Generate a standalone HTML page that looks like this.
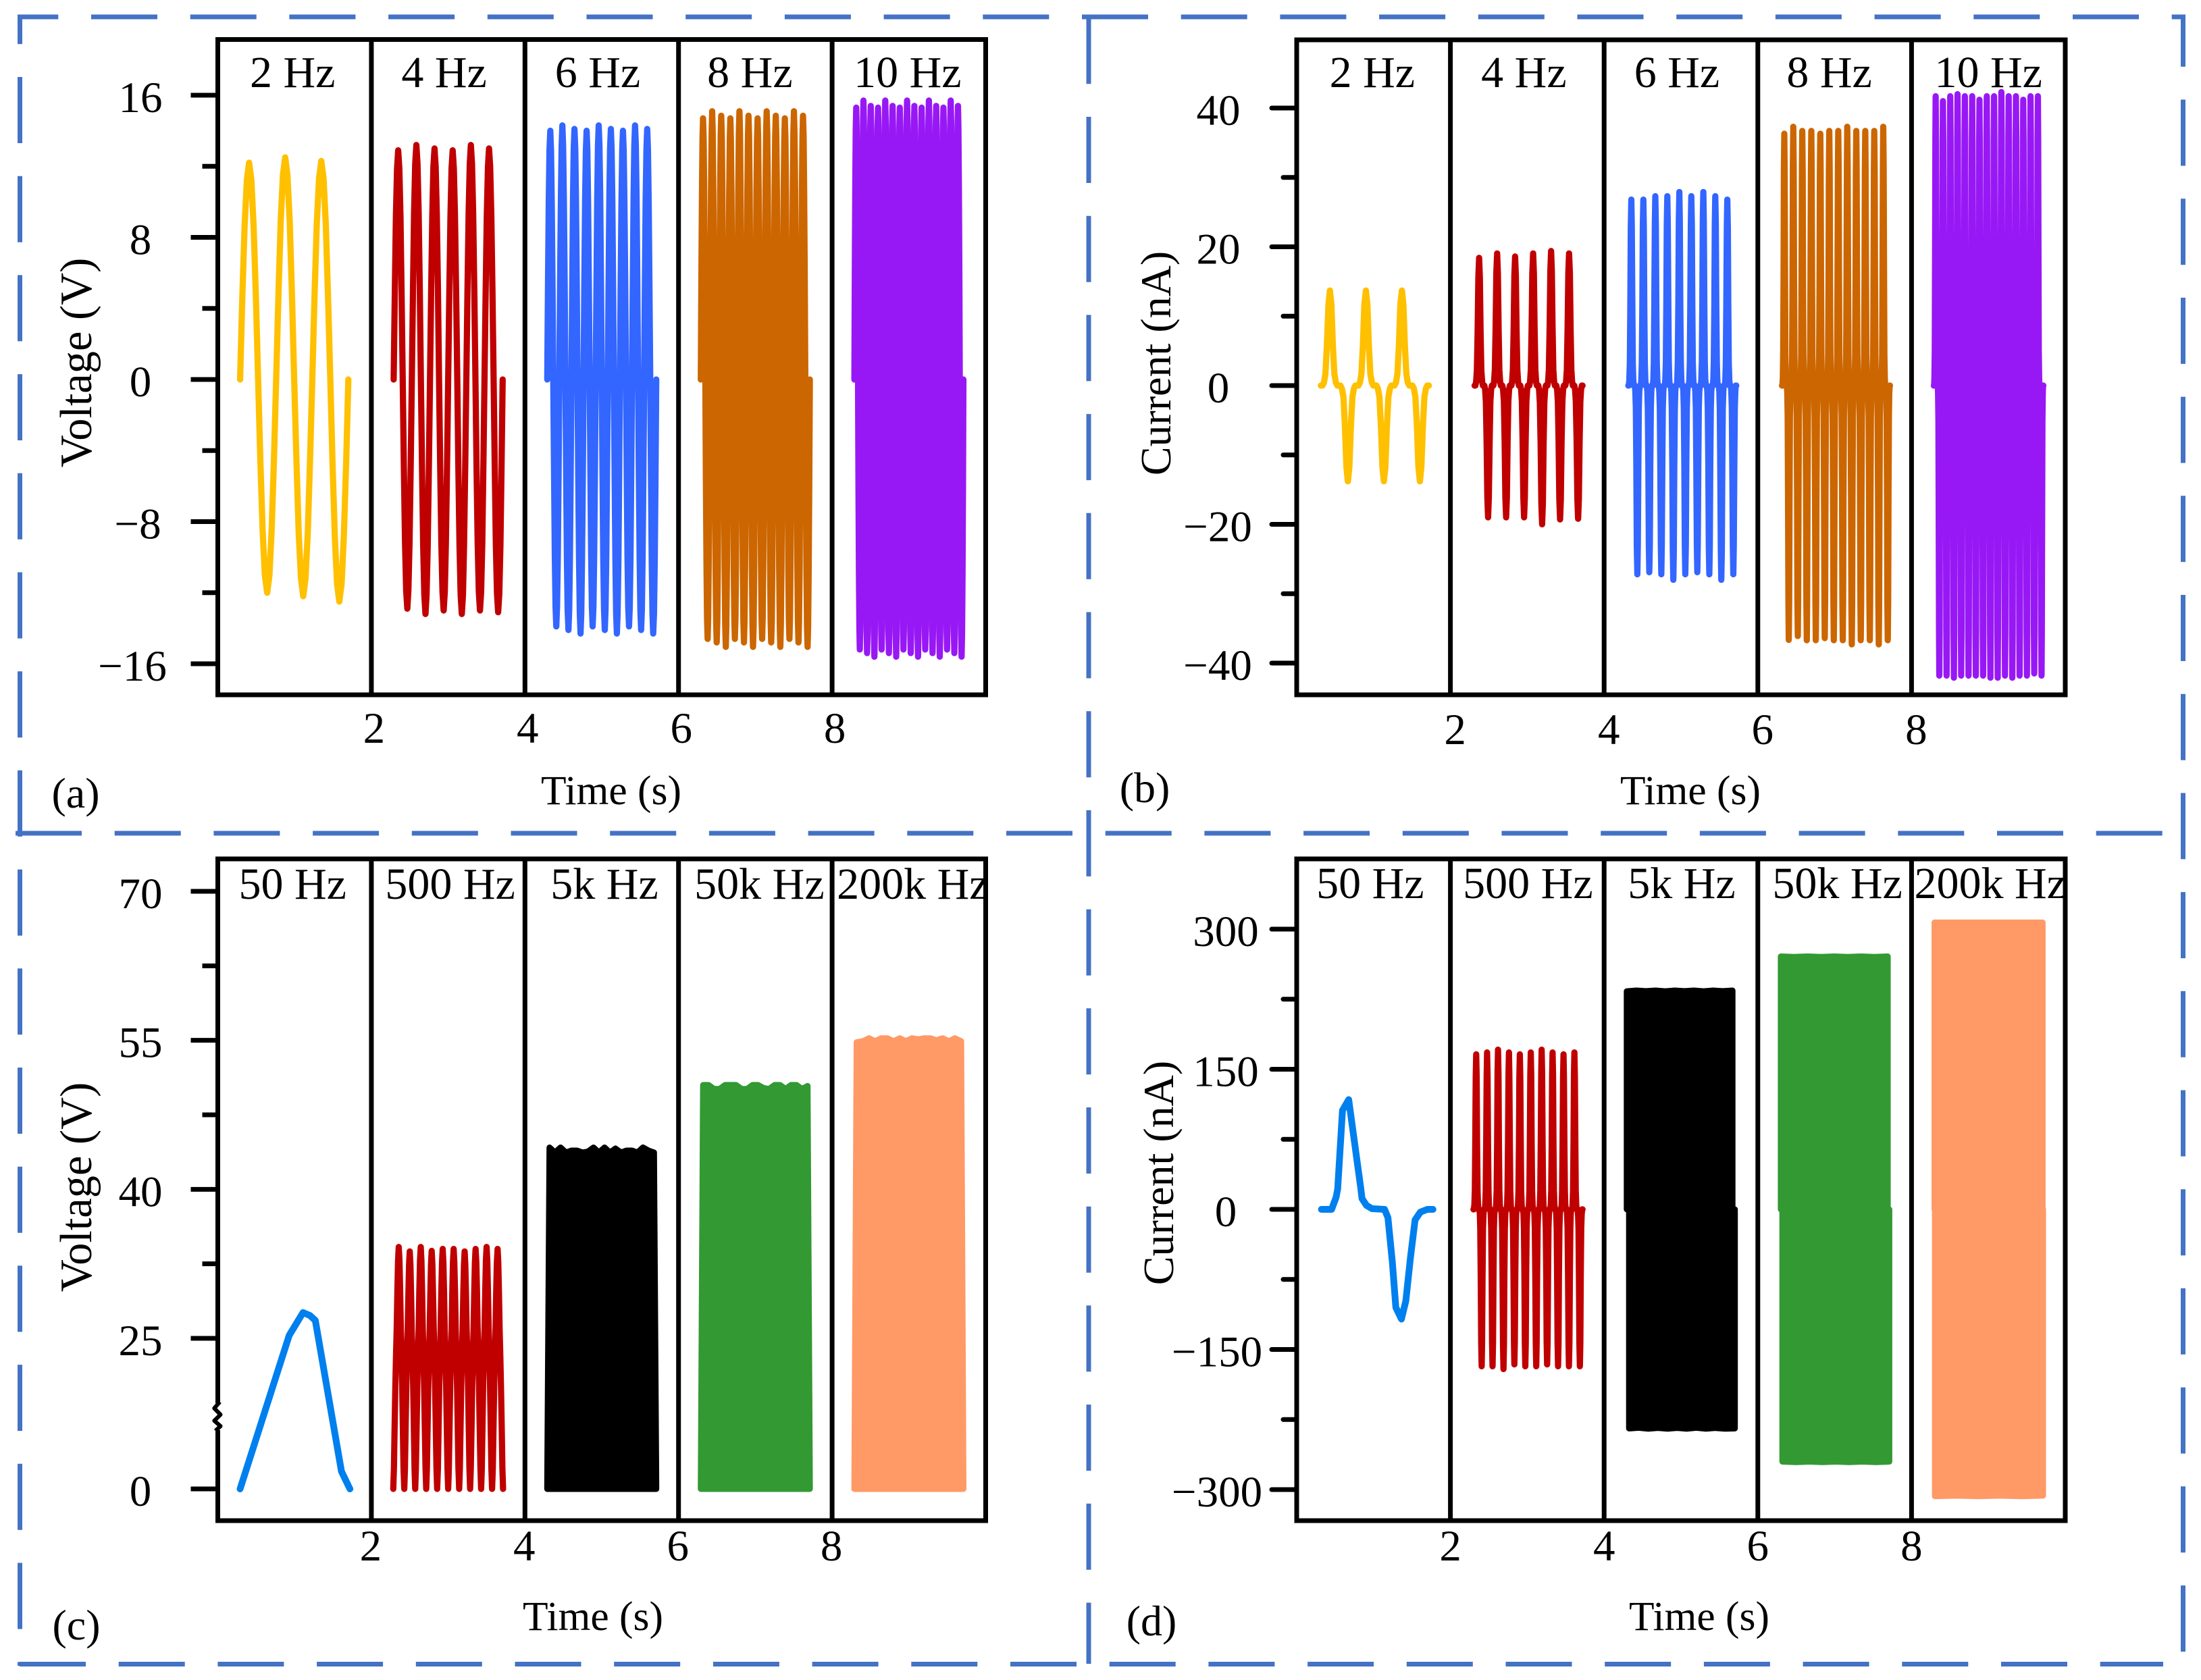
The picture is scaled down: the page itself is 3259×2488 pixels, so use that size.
<!DOCTYPE html>
<html lang="en">
<head>
<meta charset="utf-8">
<title>Voltage and current response by frequency</title>
<style>
html,body{margin:0;padding:0;background:#fff}
svg{display:block}
text{font-family:"Liberation Serif","Times New Roman",serif;fill:#000}
</style>
</head>
<body>
<svg id="figure" xmlns="http://www.w3.org/2000/svg" width="3259" height="2488" viewBox="0 0 3259 2488">
<rect x="0" y="0" width="3259" height="2488" fill="#ffffff"/>
</svg>
<script>
// ---------- normalised one-cycle waveforms ----------
const sineCycle = [0,.38,.71,.92,1,.92,.71,.38,0,-.38,-.71,-.92,-1,-.92,-.71,-.38];
const pulseCycle = [0,0,.03,.12,.42,.85,1,.85,.42,.12,.03,0,0,0,-.03,-.12,-.42,-.85,-1,-.85,-.42,-.12,-.03,0];
const rectCycle = [0,.1,.3,.5,.65,.76,.87,.96,1,.96,.87,.76,.65,.5,.3,.1];

// ---------- panel (a) voltage, low frequency ----------
const aFrequencies = ["2 Hz","4 Hz","6 Hz","8 Hz","10 Hz"];
const aMajorTicks = [16,8,0,-8,-16];
const aMinorTicks = [12,4,-4,-12];
const aPeaks2 = [12.2,12.5,12.3];
const aTroughs2 = [-12.0,-12.2,-12.5];
const aPeaks4 = [12.9,13.2,13.0,12.9,13.2,13.0];
const aTroughs4 = [-12.9,-13.2,-13.0,-13.2,-13.0,-13.1];
const aPeaks6 = [14.0,14.3,14.1,14.0,14.3,14.1,14.0,14.3,14.1];
const aTroughs6 = [-13.9,-14.1,-14.3,-13.9,-14.1,-14.3,-13.9,-14.1,-14.3];
const aPeaks8 = [14.7,15.1,14.85,14.7,15.1,14.85,14.7,15.1,14.85,14.7,15.1,14.85];
const aTroughs8 = [-14.6,-14.8,-15.05,-14.6,-14.8,-15.05,-14.6,-14.8,-15.05,-14.6,-14.8,-15.05];
const aPeaks10 = [15.3,15.7,15.4,15.3,15.7,15.4,15.3,15.7,15.4,15.3,15.7,15.4,15.3,15.7,15.4];
const aTroughs10 = [-15.2,-15.4,-15.6,-15.2,-15.4,-15.6,-15.2,-15.4,-15.6,-15.2,-15.4,-15.6,-15.2,-15.4,-15.6];

// ---------- panel (b) current, low frequency ----------
const bFrequencies = ["2 Hz","4 Hz","6 Hz","8 Hz","10 Hz"];
const bMajorTicks = [40,20,0,-20,-40];
const bMinorTicks = [30,10,-10,-30];
const bPeaks2 = [13.7,13.7,13.7];
const bTroughs2 = [-13.8,-13.8,-13.8];
const bPeaks4 = [18.4,19.05,18.6,19.05,19.4,19.05];
const bTroughs4 = [-19,-19,-19,-20,-19.3,-19.2];
const bPeaks6 = [26.8,26.8,27.3,27.3,27.9,27.3,27.9,27.3,26.8];
const bTroughs6 = [-27.2,-26.9,-27.2,-28,-27.2,-26.9,-27.2,-28,-27.2];
const bPeaks8 = [36.3,37.3,36.7,36.7,36.3,36.7,36.7,37.3,36.7,36.7,36.7,37.3];
const bTroughs8 = [-36.65,-36.1,-36.7,-36.7,-36.4,-36.7,-36.7,-37.3,-36.7,-36.7,-37.3,-36.7];
const bPeaks10 = [41.7,41,41.7,42,41.7,41.7,41.2,41.7,41.7,42.3,41.7,41.7,41.2,41.7,41.7];
const bTroughs10 = [-41.8,-41.8,-42.1,-41.8,-41.8,-41.8,-41.8,-42.1,-42.1,-41.8,-42.1,-41.8,-41.8,-41.5,-41.8];

// ---------- panel (c) voltage, high frequency (broken axis) ----------
const cFrequencies = ["50 Hz","500 Hz","5k Hz","50k Hz","200k Hz"];
const cMajorTicks = [70,55,40,25,0];
const cMinorTicks = [62.5,47.5,32.5];
const c50Times = [0.29,0.93,1.11,1.2,1.27,1.61,1.72];
const c50Values = [0,25.3,27.6,27.3,26.8,2.9,0];
const c500Peaks = [34.2,33.75,34.2,33.8,34,34,33.75,34,34.2,34];
const c5kTops = [44.2,43.7,44.2,43.7,43.9,43.9,43.7,43.8,44.2,43.7,44.2,43.7,44.1,43.7,43.9,43.9,43.7,44.2,43.9,43.7];
const c50kTops = [50.5,50.5,50.1,50.1,50.5,50.5,50.5,50.1,50.1,50.5,50.5,50.2,50.1,50.5,50.5,50.1,50.5,50.5,50.1,50.4];
const c200kTops = [54.8,54.9,55.2,54.9,55.2,55.2,54.9,55.2,54.9,55.2,55.1,55.2,55.2,55.0,55.2,54.9,55.2,54.9];

// ---------- panel (d) current, high frequency ----------
const dFrequencies = ["50 Hz","500 Hz","5k Hz","50k Hz","200k Hz"];
const dMajorTicks = [300,150,0,-150,-300];
const dMinorTicks = [225,75,-75,-225];
const d50Times = [0.322,0.454,0.513,0.533,0.596,0.677,0.835,0.85,0.908,0.98,1.143,1.187,1.245,1.29,1.363,1.42,1.48,1.54,1.61,1.70,1.773];
const d50Values = [0,0,13,22,106,117.5,22,11.6,4.3,0.7,0,-8.9,-57,-105,-117.5,-98,-52,-11.3,-2.9,0,0];
const d500Peaks = [166,168,171,168,166,168,171,168,166,168];
const d500Troughs = [-168,-168,-171,-166,-168,-168,-166,-168,-168,-168];
const d5kTops = [233.4,234.2,233.6,234.2,233.4,234.2,233.6,234.2,233.4,234.2,233.6,234.2];
const d5kBottoms = [-234.5,-233.8,-234.8,-234,-234.8,-234,-234.8,-233.8,-234.8,-234,-234.8,-234.5];
const d50kTops = [270.7,270.2,270.7,270.2,270.7,270.2,270.7,270.2,270.7];
const d50kBottoms = [-270,-270.6,-270,-270.6,-270,-270.6,-270,-270.6,-270];
const d200kTops = [307,307,307,307,307,307];
const d200kBottoms = [-307,-306.4,-307,-306.4,-307,-306.4];

// ---------- shared axis data ----------
const xTickValues = [2,4,6,8];
const seriesColors = {amber:"#FFC000",red:"#C00000",blue:"#3366FF",brown:"#CC6600",violet:"#9818F5",sky:"#007FEE",black:"#000000",green:"#339933",peach:"#FF9966"};

const NS = "http://www.w3.org/2000/svg";
const svg = document.getElementById("figure");
const WAVE_WIDTH = 9.2;
const TRACE_WIDTH = 10;

function make(tag, name, attrs, parent, text) {
  const el = document.createElementNS(NS, tag);
  
  
  for (const k in attrs) el.setAttribute(k, attrs[k]);
  if (text !== undefined) el.textContent = text;
  (parent || svg).appendChild(el);
  return el;
}

// ---------- dashed panel separators ----------
const DASH = 98, GAP = 48.7, PERIOD = DASH + GAP;
function dashed(name, x1, y1, x2, y2, phase) {
  const start = x1 === x2 ? y1 : x1;
  const off = ((start - phase) % PERIOD + PERIOD) % PERIOD;
  make("line", name, {x1, y1, x2, y2, stroke:"#4472C4", "stroke-width":7, "stroke-dasharray":DASH+" "+GAP, "stroke-dashoffset":off}, svg);
}
dashed("border-top", 26, 25, 3236, 25, 135);
dashed("border-left", 29.5, 25, 29.5, 2467, 114);
dashed("border-right", 3232.5, 25, 3232.5, 2446, 2201.3);
dashed("border-bottom", 29, 2464.5, 3203, 2464.5, 29);
dashed("divider-vertical", 1612, 28, 1612, 2464, 173);
dashed("divider-horizontal", 23, 1234, 3236, 1234, 1490);

// ---------- axis functions ----------
function xPos(p, t) { return p.left + (p.right - p.left) * t / 10; }
function yPos(p, v) {
  const d = p.yDomain, r = p.yRange;
  let i = 0;
  while (i < d.length - 2 && v > d[i + 1]) i++;
  return r[i] + (v - d[i]) * (r[i + 1] - r[i]) / (d[i + 1] - d[i]);
}

function drawFrame(p) {
  const g = make("g", "panel-" + p.id, {}, svg);
  p.g = g;
  p.series = make("g", "series-" + p.id, {fill:"none"}, g);
  make("rect", "plot-frame-" + p.id, {x:p.left, y:p.top, width:p.right-p.left, height:p.bottom-p.top, fill:"none", stroke:"#000", "stroke-width":7, "stroke-linejoin":"miter"}, g);
  xTickValues.forEach(function (t) {
    make("line", "x-divider-" + t, {x1:xPos(p,t), x2:xPos(p,t), y1:p.top, y2:p.bottom, stroke:"#000", "stroke-width":7}, g);
    make("text", "x-tick-label-" + t, {x:xPos(p,t)+p.xLabelShift, y:p.xLabelBase, "font-size":65, "text-anchor":"middle"}, g, String(t));
  });
  p.major.forEach(function (v) {
    const y = yPos(p, v);
    make("line", "y-tick-" + v, {x1:p.left-p.tickInset-40, x2:p.left, y1:y, y2:y, stroke:"#000", "stroke-width":7, "stroke-linecap":p.tickCap}, g);
    const lab = v < 0 ? "\u2212" + Math.abs(v) : String(v);
    const cx = p.labelX - (v < 0 ? p.negShift[String(Math.abs(v)).length - 1] : 0);
    make("text", "y-tick-label-" + v, {x:cx, y:y+25, "font-size":65, "text-anchor":"middle"}, g, lab);
  });
  p.minor.forEach(function (v) {
    const y = yPos(p, v);
    make("line", "y-minor-tick-" + v, {x1:p.left-p.tickInset-23, x2:p.left, y1:y, y2:y, stroke:"#000", "stroke-width":7, "stroke-linecap":p.tickCap}, g);
  });
  p.freqs.forEach(function (f, i) {
    const mid = xPos(p, 2*i+1) + p.headerNudge[i];
    make("text", "frequency-label-" + f.replace(" ","-").toLowerCase(), {x:mid, y:p.headerBase, "font-size":66, "text-anchor":"middle"}, g, f);
  });
  make("text", "x-axis-title", {x:p.timeX, y:p.timeBase, "font-size":61.5, "text-anchor":"middle"}, g, "Time (s)");
  make("text", "y-axis-title", {x:0, y:0, "font-size":p.titleSize, "text-anchor":"middle", transform:"translate("+p.titleX+" "+p.titleY+") rotate(-90)"}, g, p.title);
  make("text", "panel-label", {x:p.tagX, y:p.tagBase, "font-size":64, "text-anchor":"middle"}, g, p.tag);
}

function drawWave(p, name, start, end, peaks, troughs, shape, color) {
  const n = peaks.length, pts = [];
  const dur = (end - start) / n;
  for (let c = 0; c < n; c++) {
    for (let i = 0; i < shape.length; i++) {
      const s = shape[i];
      const amp = s >= 0 ? peaks[c] : Math.abs(troughs[c]);
      pts.push(xPos(p, start + (c + i / shape.length) * dur).toFixed(1) + "," + yPos(p, s * amp).toFixed(1));
    }
  }
  pts.push(xPos(p, end).toFixed(1) + "," + yPos(p, 0).toFixed(1));
  make("polyline", name, {points:pts.join(" "), fill:"none", stroke:color, "stroke-width":WAVE_WIDTH, "stroke-linejoin":"round", "stroke-linecap":"round"}, p.series);
}

function drawTrace(p, name, times, values, color) {
  const pts = times.map(function (t, i) { return xPos(p, t).toFixed(1) + "," + yPos(p, values[i]).toFixed(1); });
  make("polyline", name, {points:pts.join(" "), fill:"none", stroke:color, "stroke-width":TRACE_WIDTH, "stroke-linejoin":"round", "stroke-linecap":"round"}, p.series);
}

function drawBlock(p, name, start, end, tops, bottoms, color, inset) {
  const pts = [];
  const pushPt = function (t, v) { pts.push(xPos(p, t).toFixed(1) + "," + yPos(p, v).toFixed(1)); };
  const tStart = bottoms ? start : start + inset;
  const tEnd = end - inset;
  pushPt(start, 0);
  tops.forEach(function (v, i) { pushPt(tStart + (tEnd - tStart) * i / (tops.length - 1), v); });
  if (bottoms) pushPt(tEnd, 0);
  pushPt(end, 0);
  if (bottoms) {
    const bStart = start + inset;
    for (let i = bottoms.length - 1; i >= 0; i--) {
      pushPt(bStart + (end - bStart) * i / (bottoms.length - 1), bottoms[i]);
    }
    pushPt(bStart, 0);
  }
  make("polygon", name, {points:pts.join(" "), fill:color, stroke:color, "stroke-width":9, "stroke-linejoin":"round"}, p.series);
}

// ---------- panel layout ----------
const panelA = {id:"a", left:322.5, right:1459.5, top:58.5, bottom:1029, yDomain:[-16,16], yRange:[983,141],
  major:aMajorTicks, minor:aMinorTicks, freqs:aFrequencies, labelX:208, negShift:[4,12,0], tickCap:"butt", tickInset:0, xLabelShift:4, xLabelBase:1100,
  headerNudge:[-3,-6,-6,-8,-2], headerBase:129, timeX:905, timeBase:1191, title:"Voltage (V)", titleSize:66.4, titleX:135, titleY:537, tag:"(a)", tagX:112, tagBase:1196};
const panelB = {id:"b", left:1920, right:3058, top:59, bottom:1029, yDomain:[-40,40], yRange:[982,160],
  major:bMajorTicks, minor:bMinorTicks, freqs:bFrequencies, labelX:1804, negShift:[1,1,1], tickCap:"round", tickInset:-3, xLabelShift:7, xLabelBase:1102,
  headerNudge:[-2,-5,-6,-8,0], headerBase:129, timeX:2503, timeBase:1191, title:"Current (nA)", titleSize:64, titleX:1733, titleY:538, tag:"(b)", tagX:1695, tagBase:1188};
const panelC = {id:"c", left:322.5, right:1459.5, top:1272, bottom:2252, yDomain:[0,25,70], yRange:[2205,1982,1320],
  major:cMajorTicks, minor:cMinorTicks, freqs:cFrequencies, labelX:208, negShift:[0,0,0], tickCap:"butt", tickInset:0, xLabelShift:-1, xLabelBase:2311,
  headerNudge:[-3,3,4,6,6], headerBase:1331, timeX:878, timeBase:2414, title:"Voltage (V)", titleSize:66.4, titleX:135, titleY:1758, tag:"(c)", tagX:113, tagBase:2428};
const panelD = {id:"d", left:1920, right:3058, top:1272, bottom:2252, yDomain:[-300,300], yRange:[2206,1376],
  major:dMajorTicks, minor:dMinorTicks, freqs:dFrequencies, labelX:1815, negShift:[0,0,13], tickCap:"round", tickInset:-3, xLabelShift:0, xLabelBase:2311,
  headerNudge:[-5,1,1,4,3], headerBase:1330, timeX:2516, timeBase:2414, title:"Current (nA)", titleSize:64, titleX:1737, titleY:1737, tag:"(d)", tagX:1705, tagBase:2422};

[panelA, panelB, panelC, panelD].forEach(drawFrame);

// break marker on panel (c) y axis
make("rect", "axis-break-gap", {x:316, y:2078, width:13, height:40, fill:"#fff"}, panelC.g);
make("polyline", "axis-break-marker", {points:"325.5,2076 317.3,2085.6 326.5,2095 317.3,2104 326.5,2112 319,2119", fill:"none", stroke:"#000", "stroke-width":6, "stroke-linejoin":"round"}, panelC.g);

// ---------- series ----------
drawWave(panelA, "series-2-hz", 0.29, 1.70, aPeaks2, aTroughs2, sineCycle, seriesColors.amber);
drawWave(panelA, "series-4-hz", 2.29, 3.71, aPeaks4, aTroughs4, sineCycle, seriesColors.red);
drawWave(panelA, "series-6-hz", 4.29, 5.71, aPeaks6, aTroughs6, sineCycle, seriesColors.blue);
drawWave(panelA, "series-8-hz", 6.29, 7.71, aPeaks8, aTroughs8, sineCycle, seriesColors.brown);
drawWave(panelA, "series-10-hz", 8.29, 9.71, aPeaks10, aTroughs10, sineCycle, seriesColors.violet);

drawWave(panelB, "series-2-hz", 0.315, 1.72, bPeaks2, bTroughs2, pulseCycle, seriesColors.amber);
drawWave(panelB, "series-4-hz", 2.315, 3.72, bPeaks4, bTroughs4, pulseCycle, seriesColors.red);
drawWave(panelB, "series-6-hz", 4.315, 5.72, bPeaks6, bTroughs6, pulseCycle, seriesColors.blue);
drawWave(panelB, "series-8-hz", 6.315, 7.72, bPeaks8, bTroughs8, pulseCycle, seriesColors.brown);
drawWave(panelB, "series-10-hz", 8.29, 9.715, bPeaks10, bTroughs10, pulseCycle, seriesColors.violet);

drawTrace(panelC, "series-50-hz", c50Times, c50Values, seriesColors.sky);
drawWave(panelC, "series-500-hz", 2.285, 3.715, c500Peaks, c500Peaks, rectCycle, seriesColors.red);
drawBlock(panelC, "series-5k-hz", 4.29, 5.71, c5kTops, null, seriesColors.black, 0.03);
drawBlock(panelC, "series-50k-hz", 6.29, 7.71, c50kTops, null, seriesColors.green, 0.03);
drawBlock(panelC, "series-200k-hz", 8.29, 9.71, c200kTops, null, seriesColors.peach, 0.03);

drawTrace(panelD, "series-50-hz", d50Times, d50Values, seriesColors.sky);
drawWave(panelD, "series-500-hz", 2.30, 3.72, d500Peaks, d500Troughs, pulseCycle, seriesColors.red);
drawBlock(panelD, "series-5k-hz", 4.295, 5.70, d5kTops, d5kBottoms, seriesColors.black, 0.03);
drawBlock(panelD, "series-50k-hz", 6.30, 7.71, d50kTops, d50kBottoms, seriesColors.green, 0.02);
drawBlock(panelD, "series-200k-hz", 8.30, 9.71, d200kTops, d200kBottoms, seriesColors.peach, 0.005);
</script>
</body>
</html>
